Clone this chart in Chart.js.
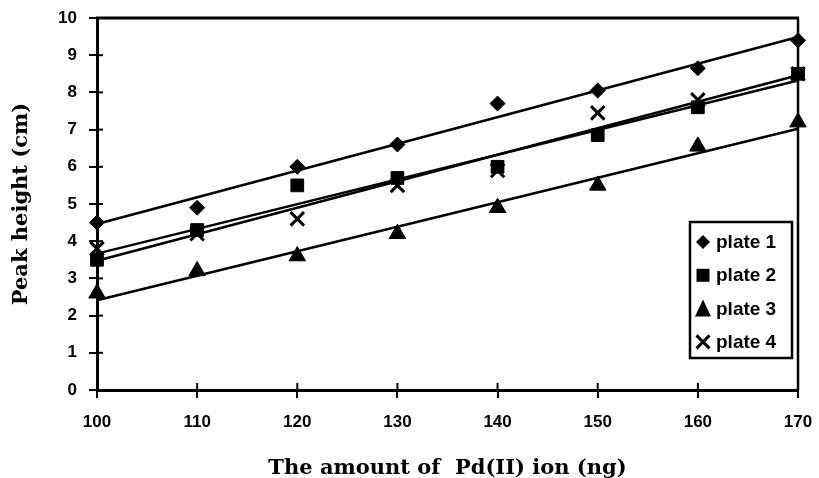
<!DOCTYPE html>
<html><head><meta charset="utf-8">
<script src="https://cdn.jsdelivr.net/npm/chart.js@4.4.1/dist/chart.umd.min.js"></script>
<style>html,body{margin:0;padding:0;background:#fff}#wrap{width:819px;height:478px}</style>
</head><body><div id="wrap"><canvas id="c" width="819" height="478"></canvas></div>
<script>
const amounts = [100, 110, 120, 130, 140, 150, 160, 170];
const plate1 = [4.5, 4.9, 6.0, 6.6, 7.7, 8.05, 8.65, 9.4];
const plate2 = [3.5, 4.3, 5.5, 5.7, 6.0, 6.85, 7.6, 8.5];
const plate3 = [2.6, 3.2, 3.6, 4.2, 4.9, 5.5, 6.55, 7.2];
const plate4 = [3.8, 4.2, 4.6, 5.5, 5.9, 7.45, 7.8, 8.5];
const seriesNames = ['plate 1', 'plate 2', 'plate 3', 'plate 4'];
const xTicks = [100, 110, 120, 130, 140, 150, 160, 170];
const yTicks = [0, 1, 2, 3, 4, 5, 6, 7, 8, 9, 10];

const allSeries = [plate1, plate2, plate3, plate4];
const styles = [
  {pointStyle: 'rectRot', radius: 7.5, borderWidth: 1},
  {pointStyle: 'rect', radius: 9, borderWidth: 1},
  {pointStyle: 'triangle', radius: 9.5, borderWidth: 1},
  {pointStyle: 'crossRot', radius: 9.5, borderWidth: 3}
];

function fit(xs, ys) {
  const n = xs.length;
  const mx = xs.reduce((a, b) => a + b, 0) / n;
  const my = ys.reduce((a, b) => a + b, 0) / n;
  let sxy = 0, sxx = 0;
  for (let i = 0; i < n; i++) { sxy += (xs[i] - mx) * (ys[i] - my); sxx += (xs[i] - mx) ** 2; }
  const b = sxy / sxx;
  return {a: my - b * mx, b};
}

const datasets = [];
allSeries.forEach((s, i) => {
  const f = fit(amounts, s);
  const x0 = amounts[0], x1 = amounts[amounts.length - 1];
  datasets.push({
    type: 'line', label: seriesNames[i] + ' trend', data: [{x: x0, y: f.a + f.b * x0}, {x: x1, y: f.a + f.b * x1}],
    borderColor: '#000', borderWidth: 2.5, pointRadius: 0, fill: false, clip: false, order: 2
  });
});
allSeries.forEach((s, i) => {
  datasets.push({
    type: 'scatter', label: seriesNames[i], data: amounts.map((x, j) => ({x, y: s[j]})),
    backgroundColor: '#000', borderColor: '#000', pointStyle: styles[i].pointStyle,
    pointRadius: styles[i].radius, pointBorderWidth: styles[i].borderWidth, showLine: false, clip: false, order: 1
  });
});

const frame = {
  id: 'frame',
  afterDraw(chart) {
    const {ctx, chartArea: ca, scales: {x, y}} = chart;
    ctx.save();
    ctx.strokeStyle = '#000';
    ctx.lineWidth = 2;
    xTicks.forEach(v => { const px = x.getPixelForValue(v); ctx.beginPath(); ctx.moveTo(px, ca.bottom); ctx.lineTo(px, ca.bottom - 7); ctx.stroke(); });
    yTicks.forEach(v => { const py = y.getPixelForValue(v); ctx.beginPath(); ctx.moveTo(ca.left, py); ctx.lineTo(ca.left + 6, py); ctx.stroke(); });
    ctx.lineWidth = 3;
    ctx.beginPath(); ctx.moveTo(ca.left - 1, ca.top); ctx.lineTo(ca.right + 1, ca.top); ctx.stroke();
    ctx.lineWidth = 2.5;
    ctx.beginPath(); ctx.moveTo(ca.right, ca.top); ctx.lineTo(ca.right, ca.bottom); ctx.stroke();
    // legend box
    const bx = 690, by = 222, bw = 102, bh = 136;
    ctx.fillStyle = '#fff';
    ctx.fillRect(bx, by, bw, bh);
    ctx.lineWidth = 2.5;
    ctx.strokeRect(bx, by, bw, bh);
    ctx.fillStyle = '#000';
    ctx.font = 'bold 19px "Liberation Sans", Arial, sans-serif';
    ctx.textBaseline = 'alphabetic';
    seriesNames.forEach((name, i) => {
      const cy = by + 20 + i * 33.3;
      const cx = bx + 13;
      const st = styles[i].pointStyle;
      ctx.beginPath();
      if (st === 'rectRot') {
        ctx.moveTo(cx, cy - 7); ctx.lineTo(cx + 7, cy); ctx.lineTo(cx, cy + 7); ctx.lineTo(cx - 7, cy); ctx.closePath(); ctx.fill();
      } else if (st === 'rect') {
        ctx.rect(cx - 6.5, cy - 6.5, 13, 13); ctx.fill();
      } else if (st === 'triangle') {
        ctx.moveTo(cx, cy - 9); ctx.lineTo(cx + 8, cy + 8); ctx.lineTo(cx - 8, cy + 8); ctx.closePath(); ctx.fill();
      } else {
        ctx.lineWidth = 3;
        ctx.moveTo(cx - 6.5, cy - 6.5); ctx.lineTo(cx + 6.5, cy + 6.5); ctx.moveTo(cx + 6.5, cy - 6.5); ctx.lineTo(cx - 6.5, cy + 6.5); ctx.stroke();
      }
      ctx.fillText(name, bx + 26, cy + 6);
    });
    ctx.restore();
  }
};

new Chart(document.getElementById('c'), {
  data: {datasets},
  options: {
    responsive: false, animation: false, maintainAspectRatio: false,
    layout: {padding: {top: 18, right: 21, left: 0, bottom: 0}},
    plugins: {legend: {display: false}, tooltip: {enabled: false}},
    scales: {
      x: {
        type: 'linear', min: 100, max: 170,
        afterBuildTicks: s => { s.ticks = xTicks.map(v => ({value: v})); },
        afterFit: s => { s.height = 88; s.paddingLeft = 0; s.paddingRight = 0; },
        grid: {drawOnChartArea: false, drawTicks: true, tickLength: 8, color: '#000', lineWidth: 2},
        border: {display: true, color: '#000', width: 3},
        ticks: {color: '#000', padding: 14, font: {family: '"Liberation Sans", Arial, sans-serif', size: 17, weight: 'bold'}, maxRotation: 0},
        title: {display: true, text: 'The amount of  Pd(II) ion (ng)', color: '#000',
          font: {family: '"DejaVu Serif", "Liberation Serif", serif', size: 21, weight: 'bold', lineHeight: 0.9}, padding: {top: 0, bottom: 0}}
      },
      y: {
        type: 'linear', min: 0, max: 10,
        afterBuildTicks: s => { s.ticks = yTicks.map(v => ({value: v})); },
        afterFit: s => { s.width = 97; s.paddingTop = 0; s.paddingBottom = 0; },
        grid: {drawOnChartArea: false, drawTicks: true, tickLength: 8, color: '#000', lineWidth: 2},
        border: {display: true, color: '#000', width: 3},
        ticks: {color: '#000', padding: 12, font: {family: '"Liberation Sans", Arial, sans-serif', size: 17, weight: 'bold'}},
        title: {display: true, text: 'Peak height (cm)', color: '#000',
          font: {family: '"DejaVu Serif", "Liberation Serif", serif', size: 21, weight: 'bold', lineHeight: 1.2}, padding: {top: 9, bottom: 0}}
      }
    }
  },
  plugins: [frame]
});
</script>
</body></html>
